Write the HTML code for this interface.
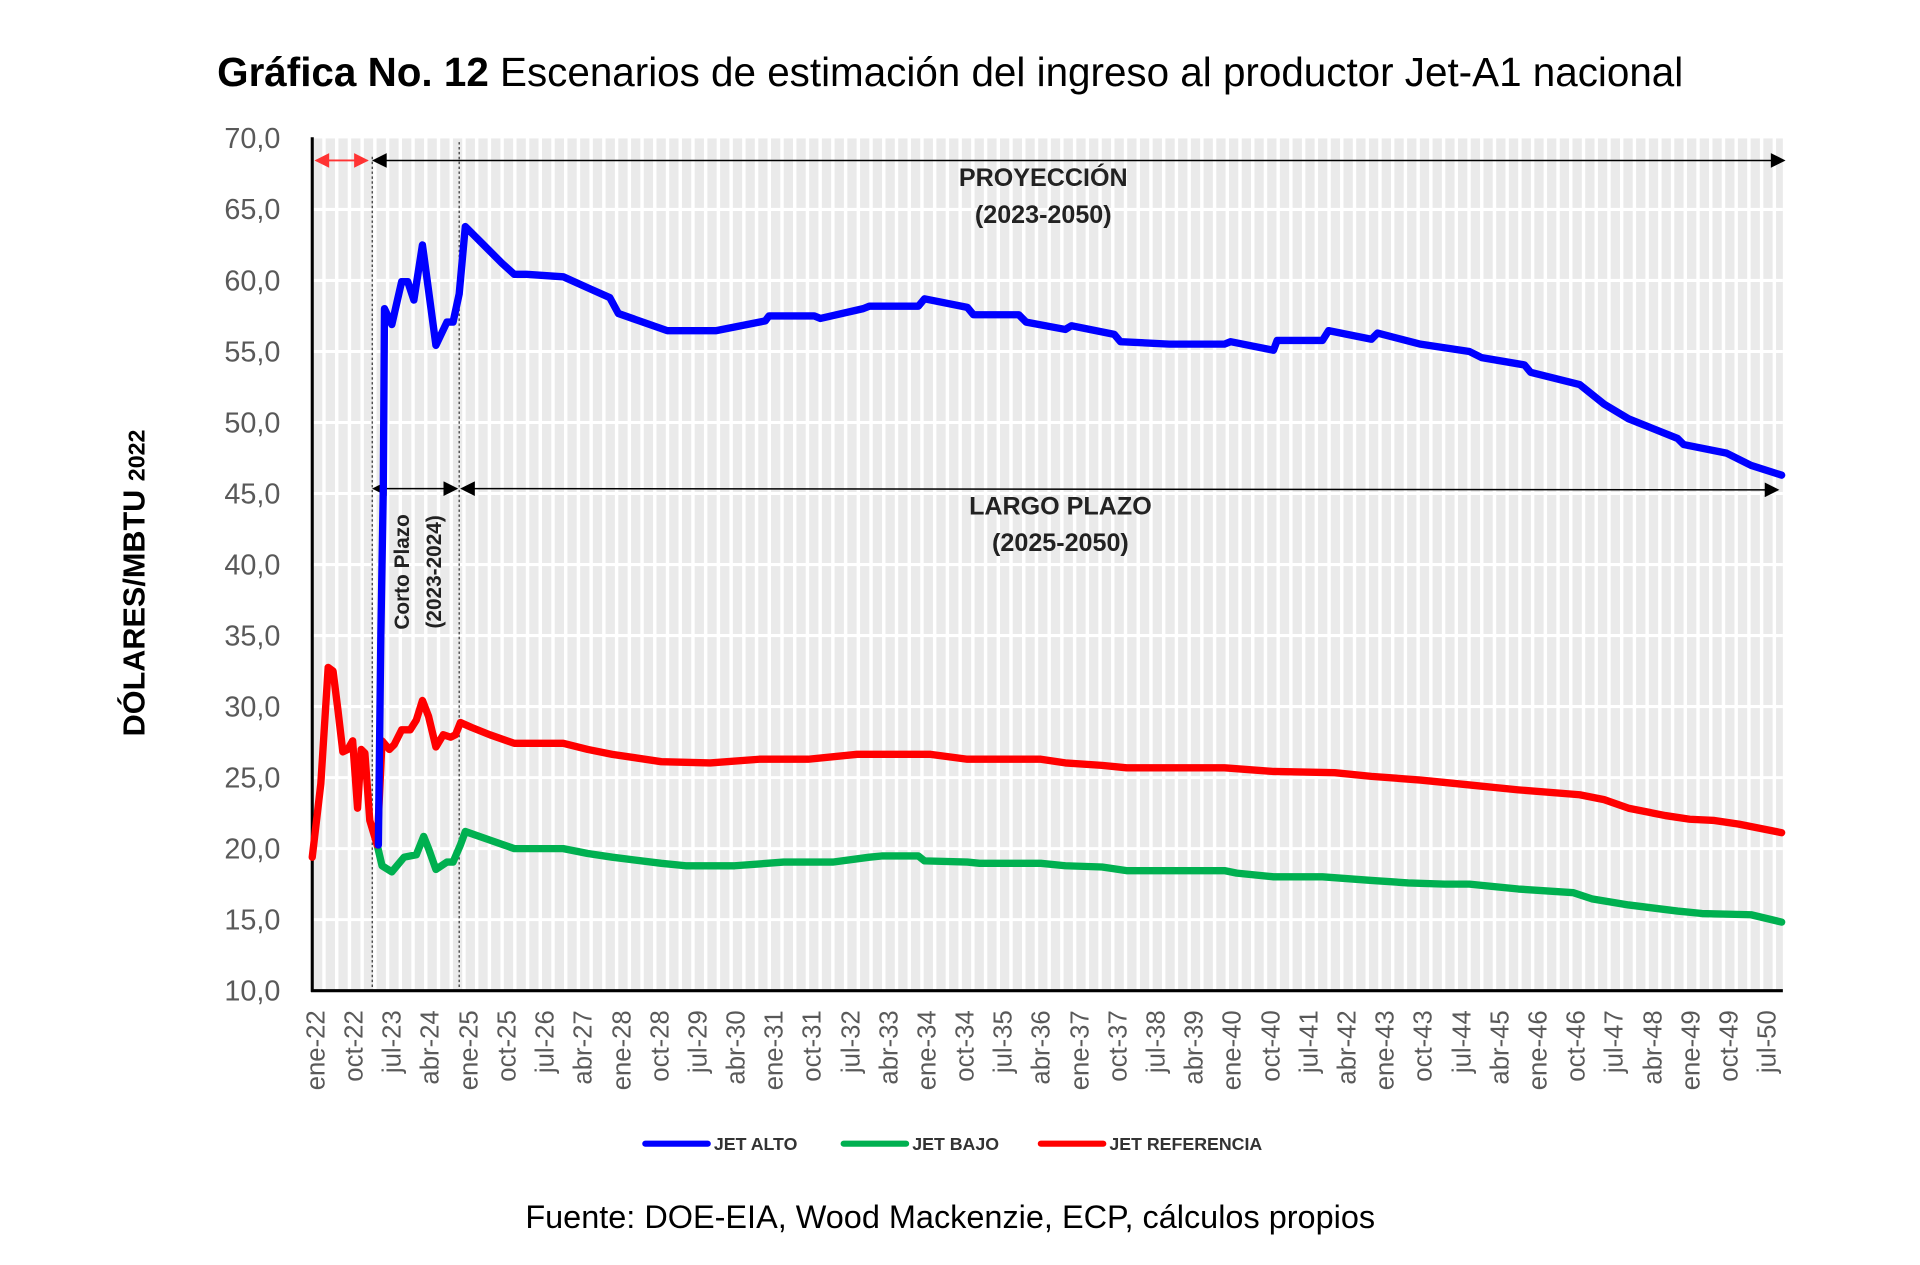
<!DOCTYPE html>
<html><head><meta charset="utf-8"><style>html,body{margin:0;padding:0;background:#fff}svg{display:block}</style></head><body>
<svg width="1920" height="1265" viewBox="0 0 1568 1033" xmlns="http://www.w3.org/2000/svg" font-family="Liberation Sans, sans-serif">
<defs>
<pattern id="vs" x="255.6" y="0" width="10.39" height="10" patternUnits="userSpaceOnUse"><rect x="0" y="0" width="7.6" height="10" fill="#eaeaea"/><rect x="7.6" y="0" width="2.79" height="10" fill="#fff"/></pattern>
<marker id="ah" viewBox="0 0 10 10" refX="9" refY="5" markerWidth="16" markerHeight="12" markerUnits="userSpaceOnUse" orient="auto-start-reverse"><path d="M0,0L10,5L0,10z" fill="#000"/></marker>
<marker id="ahr" viewBox="0 0 10 10" refX="9" refY="5" markerWidth="16" markerHeight="12" markerUnits="userSpaceOnUse" orient="auto-start-reverse"><path d="M0,0L10,5L0,10z" fill="#f33"/></marker>
</defs>
<rect x="255" y="113" width="1201" height="696" fill="url(#vs)"/>
<g stroke="#fff" stroke-width="2.5">
<line x1="255" x2="1456" y1="171" y2="171"/><line x1="255" x2="1456" y1="229" y2="229"/><line x1="255" x2="1456" y1="287" y2="287"/><line x1="255" x2="1456" y1="345" y2="345"/><line x1="255" x2="1456" y1="403" y2="403"/><line x1="255" x2="1456" y1="461" y2="461"/><line x1="255" x2="1456" y1="519" y2="519"/><line x1="255" x2="1456" y1="577" y2="577"/><line x1="255" x2="1456" y1="635" y2="635"/><line x1="255" x2="1456" y1="693" y2="693"/><line x1="255" x2="1456" y1="751" y2="751"/>
</g>
<g stroke="#333" stroke-width="1" stroke-dasharray="2,2"><line x1="304" x2="304" y1="128" y2="809"/><line x1="375" x2="375" y1="116" y2="809"/></g>
<line x1="255" y1="112" x2="255" y2="810" stroke="#000" stroke-width="2.5"/>
<line x1="254" y1="809" x2="1456" y2="809" stroke="#000" stroke-width="2.5"/>
<g font-size="23.5" fill="#595959" text-anchor="end">
<text x="229" y="121">70,0</text><text x="229" y="179">65,0</text><text x="229" y="237">60,0</text><text x="229" y="295">55,0</text><text x="229" y="353">50,0</text><text x="229" y="411">45,0</text><text x="229" y="469">40,0</text><text x="229" y="527">35,0</text><text x="229" y="585">30,0</text><text x="229" y="643">25,0</text><text x="229" y="701">20,0</text><text x="229" y="759">15,0</text><text x="229" y="817">10,0</text>
</g>
<g font-size="21" fill="#595959" text-anchor="end">
<text transform="translate(265,825) rotate(-90)">ene-22</text><text transform="translate(296,825) rotate(-90)">oct-22</text><text transform="translate(327,825) rotate(-90)">jul-23</text><text transform="translate(358,825) rotate(-90)">abr-24</text><text transform="translate(390,825) rotate(-90)">ene-25</text><text transform="translate(421,825) rotate(-90)">oct-25</text><text transform="translate(452,825) rotate(-90)">jul-26</text><text transform="translate(483,825) rotate(-90)">abr-27</text><text transform="translate(515,825) rotate(-90)">ene-28</text><text transform="translate(546,825) rotate(-90)">oct-28</text><text transform="translate(577,825) rotate(-90)">jul-29</text><text transform="translate(608,825) rotate(-90)">abr-30</text><text transform="translate(639,825) rotate(-90)">ene-31</text><text transform="translate(670,825) rotate(-90)">oct-31</text><text transform="translate(702,825) rotate(-90)">jul-32</text><text transform="translate(733,825) rotate(-90)">abr-33</text><text transform="translate(764,825) rotate(-90)">ene-34</text><text transform="translate(795,825) rotate(-90)">oct-34</text><text transform="translate(826,825) rotate(-90)">jul-35</text><text transform="translate(857,825) rotate(-90)">abr-36</text><text transform="translate(889,825) rotate(-90)">ene-37</text><text transform="translate(920,825) rotate(-90)">oct-37</text><text transform="translate(951,825) rotate(-90)">jul-38</text><text transform="translate(982,825) rotate(-90)">abr-39</text><text transform="translate(1013,825) rotate(-90)">ene-40</text><text transform="translate(1045,825) rotate(-90)">oct-40</text><text transform="translate(1076,825) rotate(-90)">jul-41</text><text transform="translate(1107,825) rotate(-90)">abr-42</text><text transform="translate(1138,825) rotate(-90)">ene-43</text><text transform="translate(1169,825) rotate(-90)">oct-43</text><text transform="translate(1201,825) rotate(-90)">jul-44</text><text transform="translate(1232,825) rotate(-90)">abr-45</text><text transform="translate(1263,825) rotate(-90)">ene-46</text><text transform="translate(1294,825) rotate(-90)">oct-46</text><text transform="translate(1325,825) rotate(-90)">jul-47</text><text transform="translate(1357,825) rotate(-90)">abr-48</text><text transform="translate(1388,825) rotate(-90)">ene-49</text><text transform="translate(1419,825) rotate(-90)">oct-49</text><text transform="translate(1450,825) rotate(-90)">jul-50</text>
</g>
<text transform="translate(118,476) rotate(-90)" text-anchor="middle" font-weight="bold" font-size="25" fill="#000">DÓLARES/MBTU <tspan font-size="19">2022</tspan></text>
<text x="776" y="70" text-anchor="middle" font-size="33" fill="#000"><tspan font-weight="bold">Gráfica No. 12</tspan> Escenarios de estimación del ingreso al productor Jet-A1 nacional</text>
<line x1="258" y1="131" x2="300" y2="131" stroke="#f33" stroke-width="1.5" marker-start="url(#ahr)" marker-end="url(#ahr)"/>
<line x1="305" y1="131" x2="1457" y2="131" stroke="#000" stroke-width="1.2" marker-start="url(#ah)" marker-end="url(#ah)"/>
<line x1="305" y1="399" x2="373" y2="399" stroke="#000" stroke-width="1.2" marker-start="url(#ah)" marker-end="url(#ah)"/>
<line x1="377" y1="399" x2="1452" y2="400" stroke="#000" stroke-width="1.2" marker-start="url(#ah)" marker-end="url(#ah)"/>
<g font-weight="bold" font-size="20.5" fill="#222" text-anchor="middle">
<text x="852" y="152">PROYECCIÓN</text><text x="852" y="182">(2023-2050)</text>
<text x="866" y="420">LARGO PLAZO</text><text x="866" y="450">(2025-2050)</text>
<text transform="translate(334,467) rotate(-90)" font-size="17">Corto Plazo</text>
<text transform="translate(360,467) rotate(-90)" font-size="17">(2023-2024)</text>
</g>
<g fill="none" stroke-width="6" stroke-linejoin="round" stroke-linecap="round">
<polyline stroke="#00b050" points="308,690 312,707 320,712 330,700 340,698 346,683 350,693 356,710 365,704 370,704 376,690 380,679 400,686 420,693 460,693 480,697 500,700 540,705 560,707 600,707 640,704 680,704 710,700 720,699 750,699 755,703 790,704 800,705 850,705 870,707 900,708 920,711 1000,711 1010,713 1040,716 1080,716 1120,719 1150,721 1180,722 1200,722 1240,726 1285,729 1300,734 1330,739 1370,744 1390,746 1430,747 1455,753"/>
<polyline stroke="#ff0000" points="255,700 262,640 268,545 272,548 276,580 280,614 284,612 288,605 292,660 295,612 298,615 302,670 308,690 312,605 318,612 322,608 328,596 335,596 340,588 345,572 350,585 356,610 362,600 368,602 372,600 376,590 385,594 400,600 420,607 460,607 480,612 500,616 540,622 580,623 620,620 660,620 700,616 760,616 790,620 830,620 850,620 870,623 900,625 920,627 1000,627 1040,630 1090,631 1120,634 1160,637 1200,641 1240,645 1290,649 1310,653 1330,660 1360,666 1380,669 1400,670 1420,673 1455,680"/>
<polyline stroke="#0000ff" points="309,690 311,520 313,400 314,252 320,265 328,230 333,230 338,245 345,200 356,282 365,263 370,263 375,240 380,185 392,197 410,215 420,224 430,224 460,226 480,235 498,243 505,256 545,270 585,270 625,262 628,258 665,258 670,260 705,252 710,250 750,250 755,244 790,251 795,257 832,257 838,263 870,269 875,266 910,273 915,279 955,281 1000,281 1005,279 1040,286 1043,278 1080,278 1085,270 1120,277 1125,272 1160,281 1200,287 1210,292 1245,298 1250,304 1290,314 1310,330 1330,342 1350,350 1370,358 1375,363 1410,370 1430,380 1455,388"/>
</g>
<g font-weight="bold" font-size="14.5" fill="#333">
<line x1="527" y1="934" x2="578" y2="934" stroke="#0000ff" stroke-width="5" stroke-linecap="round"/><text x="583" y="939">JET ALTO</text>
<line x1="689" y1="934" x2="740" y2="934" stroke="#00b050" stroke-width="5" stroke-linecap="round"/><text x="745" y="939">JET BAJO</text>
<line x1="850" y1="934" x2="901" y2="934" stroke="#ff0000" stroke-width="5" stroke-linecap="round"/><text x="906" y="939">JET REFERENCIA</text>
</g>
<text x="776" y="1003" text-anchor="middle" font-size="26.5" fill="#000">Fuente: DOE-EIA, Wood Mackenzie, ECP, cálculos propios</text>
</svg>
</body></html>
